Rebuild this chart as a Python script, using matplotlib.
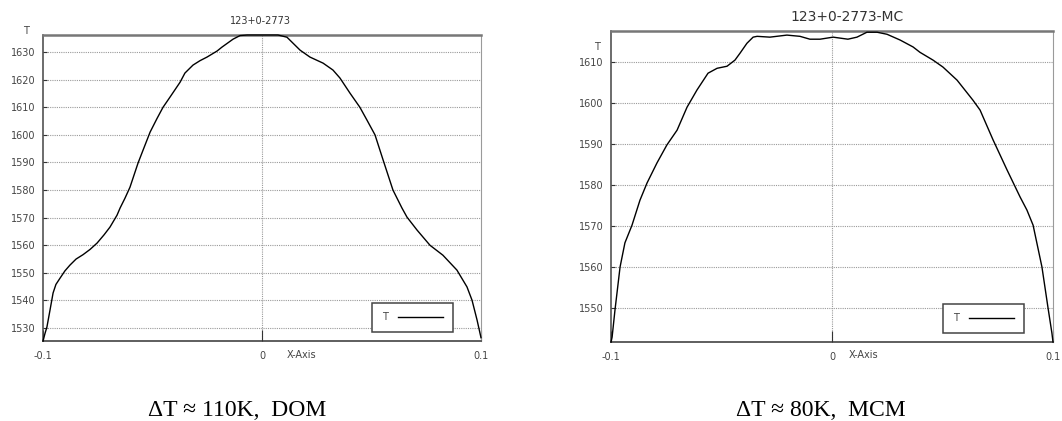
import matplotlib
matplotlib.use("Agg")
import matplotlib.pyplot as plt

# ---------------- data ----------------
dom_x = [-0.1000, -0.0991, -0.0982, -0.0968, -0.0954, -0.0941, -0.0922, -0.0900,
         -0.0877, -0.0849, -0.0817, -0.0785, -0.0753, -0.0721, -0.0694, -0.0662,
         -0.0648, -0.0626, -0.0603, -0.0566, -0.0543, -0.0511, -0.0479, -0.0452,
         -0.0420, -0.0374, -0.0352, -0.0315, -0.0283, -0.0251, -0.0205, -0.0183,
         -0.0132, -0.0100, -0.0068, 0.0000, 0.0073, 0.0114, 0.0174, 0.0219, 0.0279,
         0.0324, 0.0356, 0.0402, 0.0447, 0.0479, 0.0516, 0.0553, 0.0598, 0.0639,
         0.0662, 0.0708, 0.0767, 0.0826, 0.0890, 0.0936, 0.0959, 0.0982, 0.1000]
dom_t = [1525.3, 1528.0, 1530.4, 1536.5, 1542.7, 1545.8, 1548.1, 1550.7,
         1552.8, 1555.0, 1556.6, 1558.5, 1560.8, 1563.8, 1566.6, 1570.9,
         1573.5, 1577.0, 1581.0, 1589.8, 1594.5, 1601.0, 1606.0, 1610.0,
         1613.7, 1619.1, 1622.4, 1625.3, 1626.9, 1628.2, 1630.4, 1631.8,
         1634.7, 1636.0, 1636.2, 1636.2, 1636.2, 1635.4, 1630.7, 1628.2, 1626.0,
         1623.5, 1620.6, 1615.1, 1610.0, 1605.4, 1600.0, 1590.9, 1580.0, 1573.5,
         1570.2, 1565.5, 1560.0, 1556.4, 1551.0, 1544.9, 1540.1, 1532.9, 1526.5]

mc_x = [-0.1000, -0.0995, -0.0982, -0.0959, -0.0937, -0.0905, -0.0869, -0.0837,
        -0.0792, -0.0747, -0.0701, -0.0656, -0.0611, -0.0561, -0.0520, -0.0475,
        -0.0439, -0.0416, -0.0385, -0.0357, -0.0339, -0.0281, -0.0204, -0.0145,
        -0.0100, -0.0054, 0.0005, 0.0072, 0.0113, 0.0158, 0.0204, 0.0249, 0.0308,
        0.0367, 0.0398, 0.0457, 0.0502, 0.0566, 0.0638, 0.0670, 0.0729, 0.0792,
        0.0851, 0.0882, 0.0910, 0.0950, 0.0977, 0.0995, 0.1000]
mc_t = [1541.7, 1542.9, 1549.5, 1560.0, 1565.9, 1570.2, 1576.3, 1580.5,
        1585.4, 1589.8, 1593.4, 1599.0, 1603.2, 1607.3, 1608.5, 1609.0,
        1610.5, 1612.2, 1614.6, 1616.1, 1616.3, 1616.1, 1616.6, 1616.3,
        1615.6, 1615.6, 1616.1, 1615.6, 1616.1, 1617.3, 1617.3, 1616.8, 1615.4,
        1613.7, 1612.4, 1610.5, 1608.8, 1605.6, 1600.7, 1598.3, 1591.0, 1583.7,
        1577.1, 1573.9, 1570.2, 1560.0, 1550.2, 1543.9, 1541.7]

dom_yticks = [1530, 1540, 1550, 1560, 1570, 1580, 1590, 1600, 1610, 1620, 1630]
mc_yticks = [1550, 1560, 1570, 1580, 1590, 1600, 1610]
xticks = [-0.1, 0.0, 0.1]
xtick_labels = ["-0.1", "0", "0.1"]

W, H = 1062, 421
fig = plt.figure(figsize=(W / 100, H / 100), dpi=100)
fig.patch.set_facecolor("white")

TXT = "#444444"
GRID = "#9a9a9a"


def fx(px):
    return px / W


def fy(py):
    return 1 - py / H


def make_axes(x0, x1, ytop, ybot, ylim, yticks, xs, ts, title, title_pos, title_size,
              tlabel_pos, xaxis_pos):
    ax = fig.add_axes([fx(x0), fy(ybot), fx(x1) - fx(x0), fy(ytop) - fy(ybot)])
    ax.plot(xs, ts, color="black", lw=1.0, label="T", zorder=3, clip_on=False)
    ax.set_xlim(-0.1, 0.1)
    ax.set_ylim(*ylim)
    ax.set_yticks(yticks)
    ax.set_yticklabels([str(v) for v in yticks])
    ax.set_xticks(xticks)
    ax.set_xticklabels(xtick_labels)
    ax.tick_params(axis="y", direction="in", length=3, width=0.8, color="#333333",
                   labelsize=7, labelcolor=TXT, pad=5.5)
    ax.tick_params(axis="x", direction="in", length=8, width=0.8, color="#333333",
                   labelsize=7, labelcolor=TXT, pad=7)
    for yv in yticks:
        ax.axhline(yv, color=GRID, lw=0.8, ls=(0, (1, 1)), zorder=1)
    ax.axvline(0, color=GRID, lw=0.8, ls=(0, (1, 1)), zorder=1)
    ax.spines["left"].set_color("#444444")
    ax.spines["left"].set_linewidth(1.1)
    ax.spines["bottom"].set_color("#333333")
    ax.spines["bottom"].set_linewidth(1.1)
    ax.spines["top"].set_color("#777777")
    ax.spines["top"].set_linewidth(1.8)
    ax.spines["right"].set_color(GRID)
    ax.spines["right"].set_linewidth(0.8)
    ax.spines["right"].set_linestyle((0, (1, 1)))
    leg = ax.legend(loc="lower left", bbox_to_anchor=(0.751, 0.029), borderaxespad=0,
                    markerfirst=False, fontsize=7, frameon=True, fancybox=False,
                    framealpha=1, edgecolor="#444444", borderpad=1.0,
                    handlelength=4.6, handletextpad=1.1, labelcolor=TXT)
    leg.get_frame().set_linewidth(1.1)
    fig.text(fx(title_pos[0]), fy(title_pos[1]), title, ha="center", va="center",
             fontsize=title_size, color="#333333")
    fig.text(fx(tlabel_pos[0]), fy(tlabel_pos[1]), "T", ha="center", va="center",
             fontsize=7, color=TXT)
    fig.text(fx(xaxis_pos[0]), fy(xaxis_pos[1]), "X-Axis", ha="center", va="center",
             fontsize=7, color=TXT)
    return ax


make_axes(43, 481, 35, 341, (1525.3, 1636.2), dom_yticks, dom_x, dom_t,
          "123+0-2773", (260, 21), 7, (26, 31), (302, 355))
make_axes(611, 1053, 31, 342, (1541.7, 1617.6), mc_yticks, mc_x, mc_t,
          "123+0-2773-MC", (847, 17), 10, (597, 47), (864, 355))

cap_font = dict(family="Liberation Serif", fontsize=17, color="black",
                ha="center", va="center")
fig.text(fx(237), fy(410), "ΔT ≈ 110K,  DOM", **cap_font)
fig.text(fx(821), fy(410), "ΔT ≈ 80K,  MCM", **cap_font)

fig.savefig("out.png", dpi=100, facecolor="white")
